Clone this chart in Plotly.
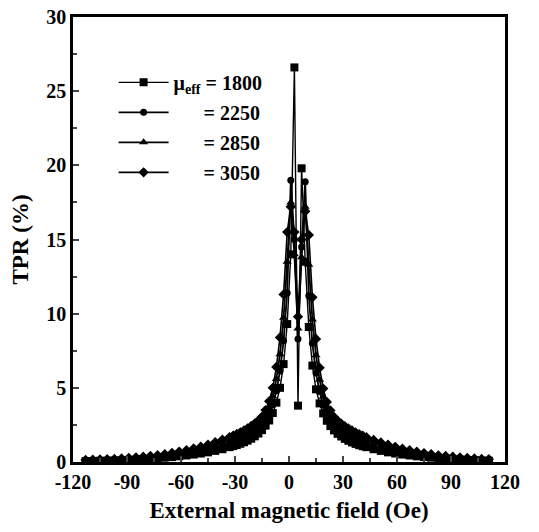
import plotly.graph_objects as go

# External field values (Oe), shared by all four curves
field = [-113, -109, -105, -101, -97, -93, -89, -85, -81, -77, -73, -69, -65,
         -61, -57, -53, -49, -45, -41, -37, -33,
         -31, -29, -27, -25, -23, -21, -19, -17, -15, -13, -11, -9, -7, -5,
         -3, -1, 1, 3, 5, 7, 9, 11, 13, 15, 17, 19, 21, 23, 25, 27, 29, 31,
         33, 35, 37, 39, 41,
         43, 47, 51, 55, 59, 63, 67, 71, 75, 79, 83, 87, 91, 95, 99, 103,
         107, 111]

# TPR (%)
tpr_1800 = [0.06, 0.07, 0.08, 0.09, 0.10, 0.12, 0.14, 0.16, 0.19, 0.22, 0.25,
            0.29, 0.33, 0.38, 0.44, 0.50, 0.57, 0.65, 0.75, 0.86, 1.00,
            1.07, 1.14, 1.23, 1.33, 1.44, 1.57, 1.73, 1.92, 2.15, 2.45, 2.80,
            3.30, 4.00, 5.00, 6.60, 9.30, 14.0, 26.6,
            3.8,
            19.8, 13.5, 9.1, 6.5, 4.9, 3.95, 3.28, 2.78, 2.42, 2.13, 1.90,
            1.72, 1.56, 1.43, 1.32, 1.22, 1.13, 1.06,
            1.00, 0.86, 0.75, 0.65, 0.57, 0.50, 0.44, 0.38, 0.33, 0.29, 0.25,
            0.22, 0.19, 0.16, 0.14, 0.12, 0.10, 0.09]

tpr_2250 = [0.08, 0.09, 0.11, 0.12, 0.14, 0.16, 0.18, 0.21, 0.24, 0.28, 0.32,
            0.37, 0.42, 0.49, 0.56, 0.64, 0.72, 0.82, 0.94, 1.07, 1.23,
            1.31, 1.39, 1.49, 1.60, 1.72, 1.86, 2.02, 2.21, 2.45, 2.80, 3.23,
            3.86, 4.80, 6.13, 8.17, 11.4, 19.0, 15.0,
            8.3,
            14.5, 18.9, 11.2, 8.0, 6.0, 4.75, 3.82, 3.20, 2.78, 2.44, 2.20,
            2.01, 1.85, 1.71, 1.59, 1.48, 1.38, 1.30,
            1.22, 1.06, 0.93, 0.82, 0.72, 0.64, 0.56, 0.49, 0.42, 0.37, 0.32,
            0.28, 0.24, 0.21, 0.18, 0.16, 0.14, 0.12]

tpr_2850 = [0.11, 0.12, 0.14, 0.16, 0.17, 0.20, 0.23, 0.26, 0.30, 0.34, 0.39,
            0.45, 0.52, 0.59, 0.68, 0.77, 0.88, 1.00, 1.14, 1.29, 1.45,
            1.54, 1.64, 1.74, 1.87, 2.00, 2.15, 2.31, 2.51, 2.75, 3.15, 3.66,
            4.43, 5.60, 7.27, 9.73, 13.5, 17.5, 14.0,
            9.0,
            13.8, 17.2, 13.3, 9.6, 7.2, 5.55, 4.40, 3.63, 3.12, 2.74, 2.50,
            2.30, 2.14, 1.99, 1.86, 1.73, 1.63, 1.53,
            1.44, 1.28, 1.13, 0.99, 0.87, 0.77, 0.67, 0.59, 0.51, 0.45, 0.39,
            0.34, 0.30, 0.26, 0.23, 0.20, 0.17, 0.16]

tpr_3050 = [0.13, 0.15, 0.17, 0.19, 0.21, 0.24, 0.27, 0.31, 0.35, 0.40, 0.46,
            0.53, 0.61, 0.70, 0.80, 0.91, 1.03, 1.17, 1.33, 1.50, 1.68,
            1.78, 1.89, 2.00, 2.13, 2.27, 2.43, 2.60, 2.80, 3.05, 3.50, 4.10,
            5.00, 6.40, 8.40, 11.3, 15.5, 17.2, 15.5,
            9.8,
            15.0, 16.9, 15.3, 11.1, 8.3, 6.35, 4.95, 4.05, 3.48, 3.03, 2.78,
            2.58, 2.41, 2.26, 2.12, 1.99, 1.88, 1.77,
            1.67, 1.49, 1.32, 1.16, 1.02, 0.90, 0.79, 0.69, 0.60, 0.52, 0.45,
            0.40, 0.35, 0.31, 0.27, 0.24, 0.21, 0.19]

pad = "\u00a0" * 6
names = ["\u03bc<sub>eff</sub> = 1800", pad + "= 2250", pad + "= 2850", pad + "= 3050"]
symbols = ["square", "circle", "triangle-up", "diamond"]
sizes = [8, 7, 8, 8]
widths = [1.4, 1.8, 1.8, 1.6]
series = [tpr_1800, tpr_2250, tpr_2850, tpr_3050]

x_ticks = [-120, -90, -60, -30, 0, 30, 60, 90, 120]
x_labels = ["-120", "-90", "-60", "-30", "0", "30", "60", "90", "120"]
y_ticks = [0, 5, 10, 15, 20, 25, 30]
y_labels = ["0", "5", "10", "15", "20", "25", "30"]

fig = go.Figure()
for i in range(4):
    fig.add_trace(go.Scatter(
        x=field, y=series[i], name=names[i], mode="lines+markers",
        legendgroup="g%d" % i,
        line=dict(color="black", width=widths[i]),
        marker=dict(symbol=symbols[i], size=sizes[i], color="black")))

font = "Liberation Serif"
# the page has an 8px body margin; keep the figure inside the window
fig.update_layout(
    width=523, height=516,
    margin=dict(l=65, r=26, t=9, b=62),
    plot_bgcolor="white", paper_bgcolor="white",
    font=dict(family=font, color="black"),
    showlegend=True,
    legend=dict(x=0.094, y=0.897, xanchor="left", yanchor="top",
                bgcolor="rgba(0,0,0,0)", tracegroupgap=1, itemwidth=50,
                font=dict(family=font, size=20, color="black", weight="bold")),
    xaxis=dict(range=[-120, 120], tickvals=x_ticks, ticktext=x_labels,
               automargin=False, ticklabeloverflow="allow",
               ticks="inside", ticklen=6, tickwidth=2,
               minor=dict(dtick=15, ticks="inside", ticklen=4, tickwidth=1.5),
               showline=True, linewidth=2.5, linecolor="black", mirror=True,
               showgrid=False, zeroline=False,
               tickfont=dict(family=font, size=20, weight="bold"),
               title=dict(text="External magnetic field (Oe)", standoff=11,
                          font=dict(family=font, size=23, weight="bold"))),
    yaxis=dict(range=[0, 30], tickvals=y_ticks, ticktext=y_labels,
               automargin=False, ticklabeloverflow="allow",
               ticks="inside", ticklen=6, tickwidth=2,
               minor=dict(dtick=2.5, ticks="inside", ticklen=4, tickwidth=1.5),
               showline=True, linewidth=2.5, linecolor="black", mirror=True,
               showgrid=False, zeroline=False,
               tickfont=dict(family=font, size=20, weight="bold"),
               title=dict(text="TPR (%)", standoff=12,
                          font=dict(family=font, size=23, weight="bold"))),
)

fig.write_html("out.html")
